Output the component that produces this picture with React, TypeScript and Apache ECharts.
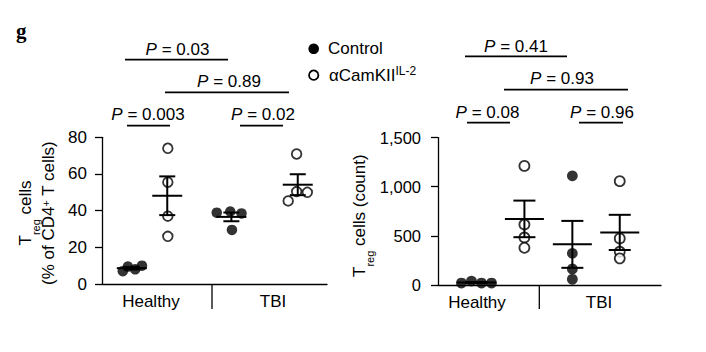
import React, { useEffect, useRef } from 'react';
import * as echarts from 'echarts';

const FONT = "'Liberation Sans', Arial, Helvetica, sans-serif";

// ---------- Left panel: Treg cells (% of CD4+ T cells) ----------
const pctHealthyCtrl = [7, 9.5, 8, 10];
const pctHealthyCam = [74, 55.5, 37, 26];
const pctTbiCtrl = [38.9, 39.5, 38.5, 29.5];
const pctTbiCam = [45.3, 70.9, 50.4, 50];
// horizontal (jittered) positions on a 0–4 axis
const xL_HealthyCtrl = [0.37, 0.46, 0.59, 0.71];
const xL_HealthyCam = [1.17, 1.17, 1.17, 1.17];
const xL_TbiCtrl = [2.04, 2.28, 2.48, 2.31];
const xL_TbiCam = [3.31, 3.46, 3.46, 3.65];
const centersL = [0.53, 1.16, 2.3, 3.48];
const ticksL = { min: 0, max: 80, interval: 20 };

// ---------- Right panel: Treg cells (count) ----------
const cntHealthyCtrl = [20, 40, 20, 20];
const cntHealthyCam = [1212, 616, 484, 379];
const cntTbiCtrl = [1111, 322, 163, 58];
const cntTbiCam = [1057, 474, 339, 271];
const xR_HealthyCtrl = [0.42, 0.6, 0.78, 0.96];
const xR_HealthyCam = [1.55, 1.55, 1.55, 1.55];
const xR_TbiCtrl = [2.41, 2.41, 2.41, 2.41];
const xR_TbiCam = [3.26, 3.26, 3.26, 3.26];
const centersR = [0.69, 1.55, 2.41, 3.26];
const ticksR = { min: 0, max: 1500, interval: 500 };

const categories = ['Healthy', 'TBI'];
const seriesNames = ['Control', 'αCamKII'];
const pLeft = ['0.03', '0.89', '0.003', '0.02'];
const pRight = ['0.41', '0.93', '0.08', '0.96'];

const zip = (xs: number[], ys: number[]) => ys.map((y, i) => [xs[i], y]);
const mean = (a: number[]) => a.reduce((s, v) => s + v, 0) / a.length;
const sem = (a: number[]) => {
  const m = mean(a);
  const v = a.reduce((s, x) => s + (x - m) * (x - m), 0) / (a.length - 1);
  return Math.sqrt(v) / Math.sqrt(a.length);
};
const summary = (centers: number[], groups: number[][]) =>
  groups.map((g, i) => [centers[i], mean(g), sem(g)]);

let _ctx: CanvasRenderingContext2D | null = null;
function tw(s: string, size: number, style = '') {
  if (!_ctx) _ctx = document.createElement('canvas').getContext('2d');
  if (!_ctx) return s.length * size * 0.55;
  _ctx.font = `${style} ${size}px ${FONT}`;
  return _ctx.measureText(s).width;
}

const K = '#000';

function meanSemRenderer(hw: number, cw: number) {
  return (params: any, api: any) => {
    const x = api.value(0);
    const m = api.value(1);
    const s = api.value(2);
    const c = api.coord([x, m]);
    const t = api.coord([x, m + s]);
    const b = api.coord([x, m - s]);
    const st = { stroke: K, lineWidth: 2 };
    return {
      type: 'group',
      children: [
        { type: 'line', shape: { x1: c[0] - hw, y1: c[1], x2: c[0] + hw, y2: c[1] }, style: st },
        { type: 'line', shape: { x1: c[0], y1: t[1], x2: c[0], y2: b[1] }, style: st },
        { type: 'line', shape: { x1: c[0] - cw, y1: t[1], x2: c[0] + cw, y2: t[1] }, style: st },
        { type: 'line', shape: { x1: c[0] - cw, y1: b[1], x2: c[0] + cw, y2: b[1] }, style: st },
      ],
    };
  };
}

function txt(x: number, y: number, text: string, size = 17, align = 'left', extra: any = {}) {
  return {
    type: 'text',
    x,
    y,
    silent: true,
    style: { text, fill: K, fontSize: size, fontFamily: FONT, align, verticalAlign: 'middle', ...extra },
  };
}

function pLabel(cx: number, cy: number, value: string) {
  const wP = tw('P', 17, 'italic');
  const rest = ' = ' + value;
  const wR = tw(rest, 17);
  const x0 = cx - (wP + wR) / 2;
  return [
    txt(x0, cy, 'P', 17, 'left', { fontStyle: 'italic' }),
    txt(x0 + wP, cy, rest, 17, 'left'),
  ];
}

function hline(x1: number, x2: number, y: number, w = 1.8) {
  return { type: 'line', silent: true, shape: { x1, y1: y, x2, y2: y }, style: { stroke: K, lineWidth: w } };
}
function vline(x: number, y1: number, y2: number, w = 1.3) {
  return { type: 'line', silent: true, shape: { x1: x, y1, x2: x, y2 }, style: { stroke: K, lineWidth: w } };
}

// rotated title: segments [{text,size,mid}] laid out along the text direction
function rotatedTitle(ox: number, oy: number, segs: { text: string; size: number; mid: number }[]) {
  let lx = 0;
  const children: any[] = [];
  segs.forEach((s) => {
    children.push(txt(lx, s.mid, s.text, s.size, 'left'));
    lx += tw(s.text, s.size);
  });
  return { type: 'group', x: ox, y: oy, rotation: Math.PI / 2, children };
}

export default function App() {
  const ref = useRef<HTMLDivElement>(null);
  useEffect(() => {
    if (!ref.current) return;
    const chart = echarts.init(ref.current, undefined, { renderer: 'svg' });

    const axisLineStyle = { color: K, width: 1.3 };
    const xAxisBase = {
      type: 'value',
      min: 0,
      max: 4,
      axisLine: { show: true, onZero: false, lineStyle: axisLineStyle },
      axisTick: { show: false },
      axisLabel: { show: false },
      splitLine: { show: false },
    };
    const yAxisBase = {
      type: 'value',
      axisLine: { show: true, lineStyle: axisLineStyle },
      axisTick: { show: true, length: 7, lineStyle: axisLineStyle },
      splitLine: { show: false },
    };

    const ctrlStyle = { color: K };
    const camStyle = { color: '#fff', borderColor: K, borderWidth: 1.8 };

    const graphics: any[] = [];
    // panel letter
    graphics.push(txt(16, 30.8, 'g', 21, 'left', { fontWeight: 'bold', fontFamily: "'Liberation Serif', 'Times New Roman', serif" }));

    // legend
    graphics.push({ type: 'circle', silent: true, shape: { cx: 313.7, cy: 48.8, r: 5.3 }, style: { fill: K } });
    graphics.push({ type: 'circle', silent: true, shape: { cx: 313.7, cy: 75.2, r: 4.7 }, style: { fill: '#fff', stroke: K, lineWidth: 1.8 } });
    graphics.push(txt(328, 48.3, seriesNames[0], 17));
    graphics.push(txt(329, 75, seriesNames[1], 17));
    graphics.push(txt(329 + tw(seriesNames[1], 17), 70.6, 'IL-2', 12));

    // P-value annotations, left panel
    graphics.push(...pLabel(177.5, 49.3, pLeft[0]), hline(125, 228, 59.7));
    graphics.push(...pLabel(229, 81, pLeft[1]), hline(165, 289, 92.3));
    graphics.push(...pLabel(148, 114.3, pLeft[2]), hline(127, 170, 125.7));
    graphics.push(...pLabel(263, 114.3, pLeft[3]), hline(240, 283, 125.7));
    // right panel
    graphics.push(...pLabel(516, 46.2, pRight[0]), hline(465, 567, 56.3));
    graphics.push(...pLabel(562, 78.8, pRight[1]), hline(504, 628, 89.7));
    graphics.push(...pLabel(487.5, 112, pRight[2]), hline(467, 510, 122.7));
    graphics.push(...pLabel(602, 112, pRight[3]), hline(579, 623, 122.7));

    // category labels & dividers
    graphics.push(txt(151, 301.3, categories[0], 17, 'center'));
    graphics.push(txt(273, 301.3, categories[1], 17, 'center'));
    graphics.push(txt(477, 302, categories[0], 17, 'center'));
    graphics.push(txt(599, 302, categories[1], 17, 'center'));
    graphics.push(vline(212, 284, 309));
    graphics.push(vline(539.3, 285, 309));

    // y-axis titles
    graphics.push(
      rotatedTitle(0, 245.5, [
        { text: 'T', size: 17, mid: 25.8 },
        { text: 'reg', size: 11, mid: 35.5 },
        { text: ' cells', size: 17, mid: 25.8 },
      ])
    );
    graphics.push(
      rotatedTitle(0, 285, [
        { text: '(% of CD4', size: 17, mid: 48.8 },
        { text: '+', size: 11, mid: 46.2 },
        { text: ' T cells)', size: 17, mid: 48.8 },
      ])
    );
    graphics.push(
      rotatedTitle(0, 277, [
        { text: 'T', size: 17, mid: 359.1 },
        { text: 'reg', size: 11, mid: 369.5 },
        { text: ' cells (count)', size: 17, mid: 359.1 },
      ])
    );

    chart.setOption({
      animation: false,
      backgroundColor: '#fff',
      textStyle: { fontFamily: FONT },
      grid: [
        { left: 102, top: 137.3, width: 225, height: 146.7 },
        { left: 438, top: 137.6, width: 223, height: 147.4 },
      ],
      xAxis: [
        { ...xAxisBase, gridIndex: 0 },
        { ...xAxisBase, gridIndex: 1 },
      ],
      yAxis: [
        {
          ...yAxisBase,
          gridIndex: 0,
          ...ticksL,
          axisLabel: { fontSize: 17, color: K, margin: 15, fontFamily: FONT },
        },
        {
          ...yAxisBase,
          gridIndex: 1,
          ...ticksR,
          axisLabel: {
            fontSize: 16.5,
            color: K,
            margin: 17,
            fontFamily: FONT,
            formatter: (v: number) => v.toLocaleString('en-US'),
          },
        },
      ],
      series: [
        {
          name: seriesNames[0],
          type: 'scatter',
          xAxisIndex: 0,
          yAxisIndex: 0,
          symbolSize: 10.5,
          itemStyle: ctrlStyle,
          data: [...zip(xL_HealthyCtrl, pctHealthyCtrl), ...zip(xL_TbiCtrl, pctTbiCtrl)],
        },
        {
          name: seriesNames[1],
          type: 'scatter',
          xAxisIndex: 0,
          yAxisIndex: 0,
          symbolSize: 9.6,
          itemStyle: camStyle,
          data: [...zip(xL_HealthyCam, pctHealthyCam), ...zip(xL_TbiCam, pctTbiCam)],
        },
        {
          type: 'custom',
          xAxisIndex: 0,
          yAxisIndex: 0,
          z: 5,
          encode: { x: 0, y: 1 },
          renderItem: meanSemRenderer(15, 8),
          data: summary(centersL, [pctHealthyCtrl, pctHealthyCam, pctTbiCtrl, pctTbiCam]),
        },
        {
          name: seriesNames[0],
          type: 'scatter',
          xAxisIndex: 1,
          yAxisIndex: 1,
          symbolSize: 10.8,
          itemStyle: ctrlStyle,
          data: [...zip(xR_HealthyCtrl, cntHealthyCtrl), ...zip(xR_TbiCtrl, cntTbiCtrl)],
        },
        {
          name: seriesNames[1],
          type: 'scatter',
          xAxisIndex: 1,
          yAxisIndex: 1,
          symbolSize: 10,
          itemStyle: camStyle,
          data: [...zip(xR_HealthyCam, cntHealthyCam), ...zip(xR_TbiCam, cntTbiCam)],
        },
        {
          type: 'custom',
          xAxisIndex: 1,
          yAxisIndex: 1,
          z: 5,
          encode: { x: 0, y: 1 },
          renderItem: meanSemRenderer(19.5, 11),
          data: summary(centersR, [cntHealthyCtrl, cntHealthyCam, cntTbiCtrl, cntTbiCam]),
        },
      ],
      graphic: graphics,
    });

    return () => chart.dispose();
  }, []);

  return (
    <div
      ref={ref}
      style={{ position: 'fixed', left: 0, top: 0, width: 706, height: 352, background: '#fff' }}
    />
  );
}
